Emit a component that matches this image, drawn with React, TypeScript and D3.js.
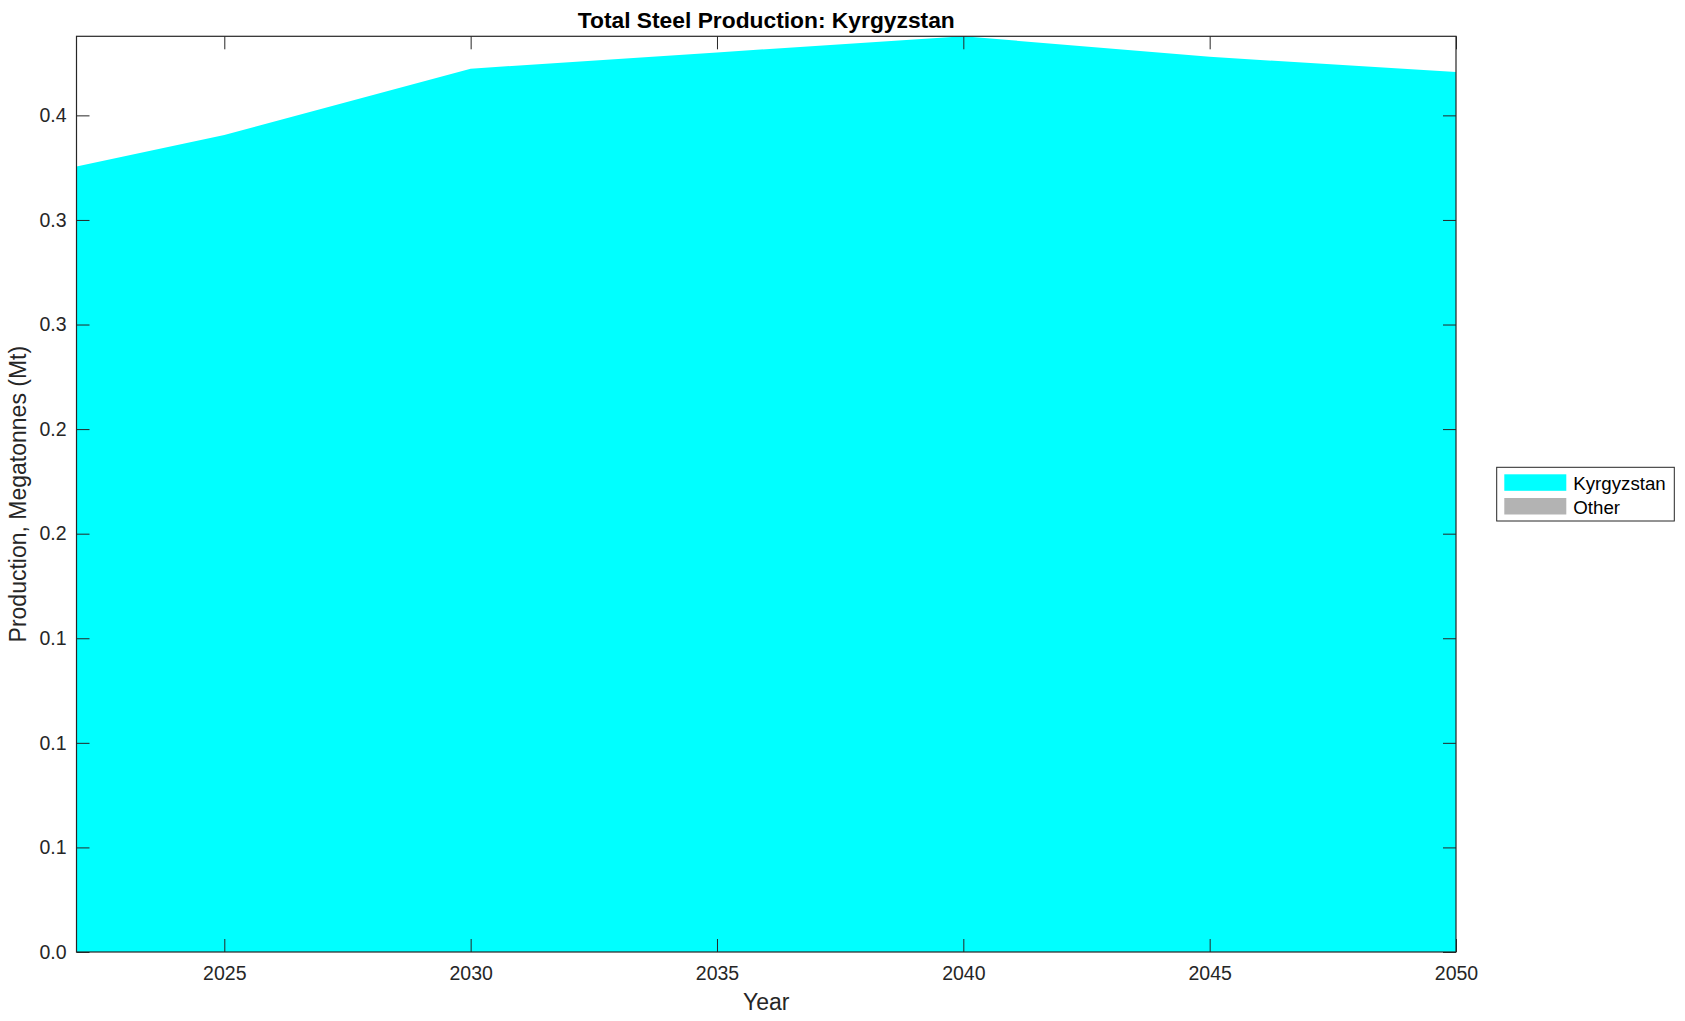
import React, { useRef, useEffect } from 'react';
import * as d3 from 'd3';

// data
const years = [2022, 2025, 2030, 2035, 2040, 2045, 2050];
const kyrgyzstan = [0.3755, 0.3906, 0.4223, 0.4301, 0.4378, 0.428, 0.4207];
const other = [0, 0, 0, 0, 0, 0, 0];

const seriesNames = ['Kyrgyzstan', 'Other'];
const seriesColors = ['#00ffff', '#b3b3b3'];

const xTicks = [2025, 2030, 2035, 2040, 2045, 2050];
const yTicks = [0, 0.05, 0.1, 0.15, 0.2, 0.25, 0.3, 0.35, 0.4];
const yTickLabels = ['0.0', '0.1', '0.1', '0.1', '0.2', '0.2', '0.3', '0.3', '0.4'];

const title = 'Total Steel Production: Kyrgyzstan';
const xLabel = 'Year';
const yLabel = 'Production, Megatonnes (Mt)';

const App = () => {
  const chartRef = useRef<SVGSVGElement>(null);

  useEffect(() => {
    const width = 1685;
    const height = 1021;
    const plot = { left: 76.5, right: 1456, top: 36.3, bottom: 952 };
    const font = '"Liberation Sans", Arial, Helvetica, sans-serif';
    const axisColor = '#262626';

    const svg = d3.select(chartRef.current);
    svg.selectAll('*').remove();
    svg.attr('width', width).attr('height', height);

    //table for the stack
    const table = years.map((yr, i) => ({ year: yr, Kyrgyzstan: kyrgyzstan[i], Other: other[i] }));
    const stacked = d3.stack<any>().keys(seriesNames)(table);

    const x = d3.scaleLinear().domain([2022, 2050]).range([plot.left, plot.right]);
    const yMax = d3.max(stacked[stacked.length - 1], d => d[1]) as number;
    const y = d3.scaleLinear().domain([0, yMax]).range([plot.bottom, plot.top]);

    //areas
    const area = d3.area<any>()
      .x(d => x(d.data.year))
      .y0(d => y(d[0]))
      .y1(d => y(d[1]));

    svg.append('g')
      .selectAll('path')
      .data(stacked)
      .join('path')
      .attr('d', area)
      .attr('fill', (d, i) => seriesColors[i]);

    //axes, ticks pointing inward
    const styleAxis = (g: any) => {
      g.select('.domain').remove();
      g.selectAll('line').attr('stroke', axisColor);
      g.selectAll('text')
        .attr('fill', axisColor)
        .style('font-family', font)
        .style('font-size', '19.5px');
    };

    svg.append('g')
      .attr('transform', `translate(0,${plot.bottom})`)
      .call(d3.axisBottom(x).tickValues(xTicks).tickFormat(d3.format('d')).tickSizeInner(-13).tickSizeOuter(0).tickPadding(14.5))
      .call(styleAxis);

    svg.append('g')
      .attr('transform', `translate(0,${plot.top})`)
      .call(d3.axisTop(x).tickValues(xTicks).tickFormat(() => '').tickSizeInner(-13).tickSizeOuter(0))
      .call(styleAxis);

    svg.append('g')
      .attr('transform', `translate(${plot.left},0)`)
      .call(d3.axisLeft(y).tickValues(yTicks).tickFormat((d, i) => yTickLabels[i]).tickSizeInner(-13).tickSizeOuter(0).tickPadding(10))
      .call(styleAxis);

    svg.append('g')
      .attr('transform', `translate(${plot.right},0)`)
      .call(d3.axisRight(y).tickValues(yTicks).tickFormat(() => '').tickSizeInner(-13).tickSizeOuter(0))
      .call(styleAxis);

    //box
    svg.append('rect')
      .attr('x', plot.left)
      .attr('y', plot.top)
      .attr('width', plot.right - plot.left)
      .attr('height', plot.bottom - plot.top)
      .attr('fill', 'none')
      .attr('stroke', axisColor)
      .attr('stroke-width', 1.2);

    //title and axis labels
    svg.append('text')
      .attr('x', (plot.left + plot.right) / 2)
      .attr('y', 27.5)
      .attr('text-anchor', 'middle')
      .style('font-family', font)
      .style('font-size', '22.8px')
      .style('font-weight', 'bold')
      .attr('fill', '#000')
      .text(title);

    svg.append('text')
      .attr('x', (plot.left + plot.right) / 2)
      .attr('y', 1010)
      .attr('text-anchor', 'middle')
      .style('font-family', font)
      .style('font-size', '23px')
      .attr('fill', axisColor)
      .text(xLabel);

    svg.append('text')
      .attr('transform', `translate(26,${(plot.top + plot.bottom) / 2}) rotate(-90)`)
      .attr('text-anchor', 'middle')
      .style('font-family', font)
      .style('font-size', '23px')
      .attr('fill', axisColor)
      .text(yLabel);

    //legend
    const legend = svg.append('g');
    legend.append('rect')
      .attr('x', 1496.7)
      .attr('y', 467.3)
      .attr('width', 177.6)
      .attr('height', 53.7)
      .attr('fill', '#fff')
      .attr('stroke', axisColor)
      .attr('stroke-width', 1);

    seriesNames.forEach((name, i) => {
      const rowY = 474.3 + i * 23.7;
      legend.append('rect')
        .attr('x', 1504.3)
        .attr('y', rowY)
        .attr('width', 62)
        .attr('height', 16.5)
        .attr('fill', seriesColors[i]);
      legend.append('text')
        .attr('x', 1573.3)
        .attr('y', rowY + 15.7)
        .style('font-family', font)
        .style('font-size', '18.7px')
        .attr('fill', '#000')
        .text(name);
    });
  }, []);

  return (
    <svg
      ref={chartRef}
      style={{ position: 'absolute', left: 0, top: 0, display: 'block', background: '#fff' }}
    ></svg>
  );
};

export default App;
